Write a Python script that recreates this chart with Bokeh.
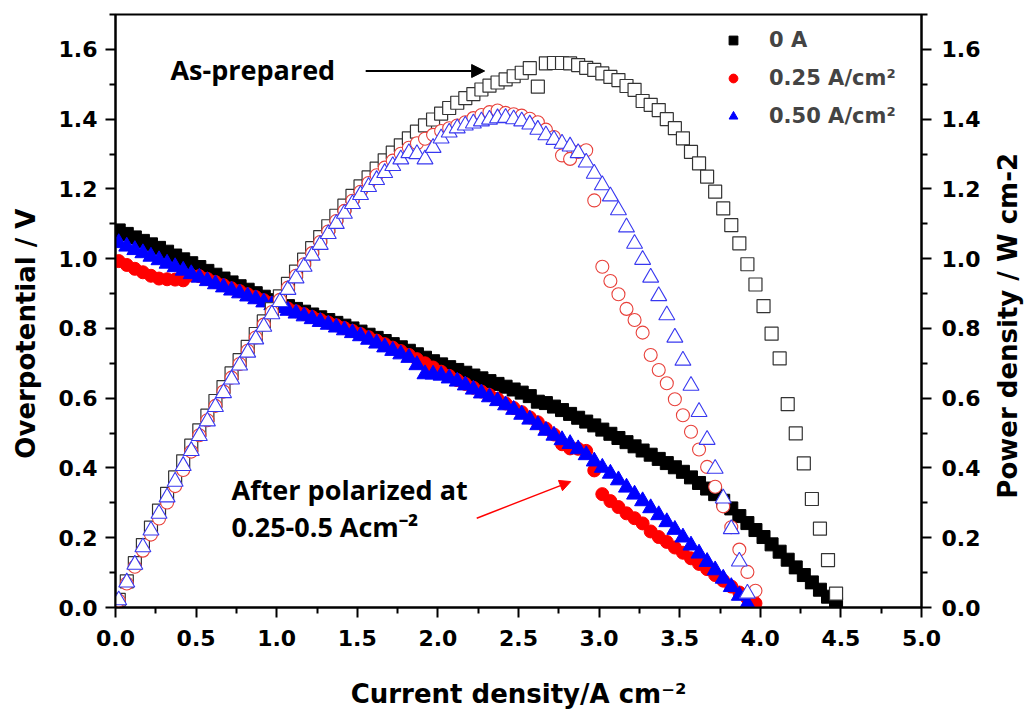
from math import pi
from bokeh.plotting import figure
from bokeh.layouts import row
from bokeh.models import (Range1d, LinearAxis, FixedTicker, Legend, LegendItem, Label,
                          Arrow, NormalHead, PrintfTickFormatter)
from bokeh.embed import file_html
from bokeh.resources import INLINE

# ---------------- data ----------------
cur_0A = [0.02, 0.07, 0.12, 0.17, 0.22, 0.27, 0.32, 0.37, 0.42, 0.47,
          0.52, 0.57, 0.62, 0.67, 0.72, 0.77, 0.82, 0.87, 0.92, 0.97,
          1.02, 1.07, 1.12, 1.17, 1.22, 1.27, 1.32, 1.37, 1.42, 1.47,
          1.52, 1.57, 1.62, 1.67, 1.72, 1.77, 1.82, 1.87, 1.92, 1.97,
          2.02, 2.07, 2.12, 2.17, 2.22, 2.27, 2.32, 2.37, 2.42, 2.47,
          2.52, 2.57, 2.62, 2.67, 2.72, 2.77, 2.82, 2.87, 2.92, 2.97,
          3.02, 3.07, 3.12, 3.17, 3.22, 3.27, 3.32, 3.37, 3.42, 3.47,
          3.52, 3.57, 3.62, 3.67, 3.72, 3.77, 3.82, 3.87, 3.92, 3.97,
          4.02, 4.07, 4.12, 4.17, 4.22, 4.27, 4.32, 4.37, 4.42, 4.47]
volt_0A = [1.081, 1.071, 1.061, 1.051, 1.041, 1.031, 1.020, 1.009, 0.998, 0.987,
           0.976, 0.965, 0.954, 0.943, 0.932, 0.921, 0.911, 0.901, 0.891, 0.881,
           0.872, 0.864, 0.856, 0.848, 0.840, 0.832, 0.824, 0.816, 0.808, 0.800,
           0.791, 0.782, 0.773, 0.764, 0.755, 0.746, 0.736, 0.726, 0.716, 0.706,
           0.697, 0.689, 0.681, 0.673, 0.665, 0.657, 0.649, 0.641, 0.633, 0.625,
           0.616, 0.606, 0.590, 0.586, 0.576, 0.566, 0.555, 0.544, 0.533, 0.522,
           0.510, 0.498, 0.486, 0.474, 0.462, 0.450, 0.438, 0.426, 0.414, 0.402,
           0.389, 0.373, 0.357, 0.341, 0.325, 0.306, 0.284, 0.262, 0.242, 0.222,
           0.202, 0.181, 0.160, 0.137, 0.115, 0.093, 0.072, 0.051, 0.031, 0.010]
power_0A = [0.022, 0.075, 0.127, 0.179, 0.229, 0.278, 0.326, 0.373, 0.419, 0.464,
            0.508, 0.550, 0.592, 0.632, 0.671, 0.709, 0.747, 0.784, 0.820, 0.855,
            0.892, 0.928, 0.963, 0.997, 1.030, 1.062, 1.093, 1.123, 1.152, 1.180,
            1.207, 1.233, 1.258, 1.282, 1.304, 1.325, 1.345, 1.364, 1.382, 1.399,
            1.416, 1.432, 1.447, 1.460, 1.472, 1.485, 1.496, 1.505, 1.514, 1.523,
            1.533, 1.546, 1.493, 1.560, 1.561, 1.561, 1.560, 1.555, 1.547, 1.541,
            1.531, 1.521, 1.512, 1.495, 1.484, 1.452, 1.441, 1.426, 1.400, 1.374,
            1.345, 1.306, 1.273, 1.235, 1.192, 1.144, 1.096, 1.044, 0.984, 0.926,
            0.864, 0.785, 0.714, 0.583, 0.499, 0.413, 0.311, 0.226, 0.136, 0.040]

cur_025 = [0.02, 0.07, 0.12, 0.17, 0.22, 0.27, 0.32, 0.37, 0.42, 0.47,
           0.52, 0.57, 0.62, 0.67, 0.72, 0.77, 0.82, 0.87, 0.92, 0.97,
           1.02, 1.07, 1.12, 1.17, 1.22, 1.27, 1.32, 1.37, 1.42, 1.47,
           1.52, 1.57, 1.62, 1.67, 1.72, 1.77, 1.82, 1.87, 1.92, 1.97,
           2.02, 2.07, 2.12, 2.17, 2.22, 2.27, 2.32, 2.37, 2.42, 2.47,
           2.52, 2.57, 2.62, 2.67, 2.72, 2.77, 2.82, 2.87, 2.92, 2.97,
           3.02, 3.07, 3.12, 3.17, 3.22, 3.27, 3.32, 3.37, 3.42, 3.47,
           3.52, 3.57, 3.62, 3.67, 3.72, 3.77, 3.82, 3.87, 3.92, 3.97]
volt_025 = [0.993, 0.982, 0.971, 0.961, 0.951, 0.943, 0.941, 0.940, 0.938, 0.952,
            0.950, 0.942, 0.933, 0.924, 0.915, 0.907, 0.898, 0.890, 0.881, 0.873,
            0.865, 0.857, 0.849, 0.841, 0.833, 0.825, 0.817, 0.809, 0.801, 0.793,
            0.784, 0.775, 0.765, 0.755, 0.745, 0.735, 0.724, 0.712, 0.700, 0.688,
            0.676, 0.664, 0.652, 0.641, 0.630, 0.619, 0.609, 0.598, 0.585, 0.572,
            0.560, 0.545, 0.531, 0.513, 0.496, 0.468, 0.456, 0.455, 0.449, 0.393,
            0.325, 0.305, 0.288, 0.270, 0.256, 0.241, 0.218, 0.202, 0.188, 0.172,
            0.157, 0.141, 0.125, 0.110, 0.093, 0.077, 0.060, 0.043, 0.026, 0.012]
power_025 = [0.020, 0.069, 0.117, 0.163, 0.209, 0.255, 0.301, 0.348, 0.394, 0.447,
             0.494, 0.537, 0.578, 0.619, 0.659, 0.698, 0.736, 0.774, 0.811, 0.847,
             0.882, 0.917, 0.951, 0.984, 1.016, 1.048, 1.078, 1.108, 1.137, 1.166,
             1.192, 1.217, 1.239, 1.261, 1.281, 1.301, 1.318, 1.331, 1.344, 1.355,
             1.366, 1.374, 1.382, 1.391, 1.403, 1.412, 1.420, 1.425, 1.418, 1.414,
             1.410, 1.401, 1.391, 1.370, 1.349, 1.296, 1.286, 1.306, 1.311, 1.167,
             0.977, 0.936, 0.898, 0.856, 0.824, 0.788, 0.724, 0.681, 0.643, 0.597,
             0.551, 0.504, 0.453, 0.403, 0.346, 0.290, 0.230, 0.166, 0.102, 0.048]

cur_050 = [0.02, 0.07, 0.12, 0.17, 0.22, 0.27, 0.32, 0.37, 0.42, 0.47,
           0.52, 0.57, 0.62, 0.67, 0.72, 0.77, 0.82, 0.87, 0.92, 0.97,
           1.02, 1.07, 1.12, 1.17, 1.22, 1.27, 1.32, 1.37, 1.42, 1.47,
           1.52, 1.57, 1.62, 1.67, 1.72, 1.77, 1.82, 1.87, 1.92, 1.97,
           2.02, 2.07, 2.12, 2.17, 2.22, 2.27, 2.32, 2.37, 2.42, 2.47,
           2.52, 2.57, 2.62, 2.67, 2.72, 2.77, 2.82, 2.87, 2.92, 2.97,
           3.02, 3.07, 3.12, 3.17, 3.22, 3.27, 3.32, 3.37, 3.42, 3.47,
           3.52, 3.57, 3.62, 3.67, 3.72, 3.77, 3.82, 3.87, 3.92]
volt_050 = [1.045, 1.035, 1.025, 1.016, 1.006, 0.996, 0.986, 0.976, 0.966, 0.956,
            0.946, 0.936, 0.927, 0.918, 0.909, 0.901, 0.892, 0.884, 0.875, 0.867,
            0.859, 0.851, 0.843, 0.835, 0.827, 0.819, 0.811, 0.803, 0.795, 0.787,
            0.778, 0.768, 0.757, 0.746, 0.736, 0.726, 0.716, 0.695, 0.669, 0.668,
            0.665, 0.657, 0.648, 0.637, 0.625, 0.614, 0.603, 0.592, 0.580, 0.567,
            0.553, 0.539, 0.523, 0.507, 0.493, 0.480, 0.469, 0.454, 0.437, 0.419,
            0.401, 0.384, 0.365, 0.344, 0.324, 0.305, 0.285, 0.265, 0.245, 0.223,
            0.201, 0.178, 0.155, 0.131, 0.107, 0.083, 0.059, 0.034, 0.010]
power_050 = [0.021, 0.072, 0.123, 0.173, 0.221, 0.269, 0.316, 0.361, 0.406, 0.449,
             0.492, 0.534, 0.575, 0.615, 0.654, 0.694, 0.731, 0.769, 0.805, 0.841,
             0.876, 0.911, 0.944, 0.977, 1.009, 1.040, 1.071, 1.100, 1.129, 1.157,
             1.183, 1.206, 1.226, 1.246, 1.266, 1.285, 1.303, 1.300, 1.285, 1.318,
             1.345, 1.362, 1.374, 1.382, 1.388, 1.394, 1.399, 1.403, 1.404, 1.400,
             1.394, 1.385, 1.370, 1.354, 1.341, 1.330, 1.322, 1.303, 1.276, 1.244,
             1.211, 1.179, 1.139, 1.090, 1.043, 0.997, 0.946, 0.893, 0.838, 0.774,
             0.708, 0.636, 0.561, 0.481, 0.398, 0.313, 0.225, 0.132, 0.040]

legend_labels = ["0 A", "0.25 A/cm\u00b2", "0.50 A/cm\u00b2"]
x_ticks = [0.0, 0.5, 1.0, 1.5, 2.0, 2.5, 3.0, 3.5, 4.0, 4.5, 5.0]
x_minor = [0.25, 0.75, 1.25, 1.75, 2.25, 2.75, 3.25, 3.75, 4.25, 4.75]
y_ticks = [0.0, 0.2, 0.4, 0.6, 0.8, 1.0, 1.2, 1.4, 1.6]
y_minor = [0.1, 0.3, 0.5, 0.7, 0.9, 1.1, 1.3, 1.5, 1.7]

# ---------------- main figure ----------------
p = figure(width=988, height=711, output_backend="svg", toolbar_location=None,
           x_range=Range1d(0, 5.0), y_range=Range1d(0, 1.70),
           min_border_left=115, min_border_right=67, min_border_top=14, min_border_bottom=104)
p.extra_y_ranges = {"pd": Range1d(0, 1.70)}
p.grid.visible = False
p.outline_line_color = "black"
p.outline_line_width = 2
p.background_fill_color = "white"
p.border_fill_color = "white"

yr = LinearAxis(y_range_name="pd")
p.add_layout(yr, "right")

TICK_FONT = "DejaVu Sans"
NB = "\u00a0"
for ax in [p.xaxis[0], p.yaxis[0], yr]:
    ax.axis_line_width = 2
    ax.major_tick_line_width = 2
    ax.minor_tick_line_width = 2
    ax.major_tick_out = 10
    ax.major_tick_in = 0
    ax.minor_tick_out = 6
    ax.minor_tick_in = 0
    ax.major_label_text_font = TICK_FONT
    ax.major_label_text_font_style = "bold"
    ax.major_label_text_font_size = "22px"
    ax.major_label_text_color = "black"
    ax.formatter = PrintfTickFormatter(format="%.1f")
    ax.axis_label_text_font = TICK_FONT
    ax.axis_label_text_font_style = "bold"
    ax.axis_label_text_font_size = "26px"
    ax.axis_label_text_color = "black"

p.xaxis[0].ticker = FixedTicker(ticks=x_ticks, minor_ticks=x_minor)
p.yaxis[0].ticker = FixedTicker(ticks=y_ticks, minor_ticks=y_minor)
yr.ticker = FixedTicker(ticks=y_ticks, minor_ticks=y_minor)
p.xaxis[0].major_label_standoff = 12
p.yaxis[0].major_label_standoff = 8
yr.major_label_standoff = 10

p.xaxis[0].axis_label = "Current density/A cm\u207b\u00b2"
p.xaxis[0].axis_label_standoff = 30
p.yaxis[0].axis_label = "Overpotential / V" + NB * 5
p.yaxis[0].axis_label_standoff = 15

# ---------------- I-V curves (filled) ----------------
r_iv0 = p.scatter(cur_0A, volt_0A, marker="square", size=13, color="black")
r_iv1 = p.scatter(cur_025, volt_025, marker="circle", size=13, color="red")
r_iv2 = p.scatter(cur_050, volt_050, marker="triangle", size=16, color="blue")

# ---------------- power curves (open) ----------------
p.scatter(cur_0A, power_0A, y_range_name="pd", marker="square", size=13,
          fill_color="white", line_color="#333333", line_width=1.2)
p.scatter(cur_025, power_025, y_range_name="pd", marker="circle", size=13,
          fill_color="white", line_color="#e8403a", line_width=1.1)
p.scatter(cur_050, power_050, y_range_name="pd", marker="triangle", size=16,
          fill_color="white", line_color="#3838f0", line_width=1.1)

# ---------------- legend ----------------
legend = Legend(items=[LegendItem(label=legend_labels[0], renderers=[r_iv0]),
                       LegendItem(label=legend_labels[1], renderers=[r_iv1]),
                       LegendItem(label=legend_labels[2], renderers=[r_iv2])],
                location=(607, 479), orientation="vertical",
                border_line_color=None, background_fill_alpha=0,
                label_text_font=TICK_FONT, label_text_font_style="bold",
                label_text_font_size="21px", glyph_width=22, glyph_height=22,
                label_height=22, spacing=14, label_standoff=25, padding=0, margin=0)
p.add_layout(legend)

# ---------------- annotations ----------------
ANN_FONT = "Open Sans"
p.add_layout(Label(x=0.341, y=1.541, text="As-prepared", text_align="left",
                   text_baseline="middle", text_font=ANN_FONT, text_font_style="bold",
                   text_font_size="27px", text_color="black"))
p.add_layout(Arrow(end=NormalHead(size=13, fill_color="black", line_color="black"),
                   x_start=1.552, y_start=1.538, x_end=2.29, y_end=1.538,
                   line_color="black", line_width=2))
p.add_layout(Label(x=0.72, y=0.337, text="After polarized at", text_align="left",
                   text_baseline="middle", text_font=ANN_FONT, text_font_style="bold",
                   text_font_size="27px", text_color="black"))
p.add_layout(Label(x=0.72, y=0.231, text="0.25-0.5 Acm\u207b\u00b2", text_align="left",
                   text_baseline="middle", text_font=ANN_FONT, text_font_style="bold",
                   text_font_size="27px", text_color="black"))
p.add_layout(Arrow(end=NormalHead(size=11, fill_color="red", line_color="red"),
                   x_start=2.241, y_start=0.256, x_end=2.824, y_end=0.361,
                   line_color="red", line_width=1.5))

# ---------------- right-hand axis title strip ----------------
p2 = figure(width=36, height=711, output_backend="svg", toolbar_location=None,
            x_range=Range1d(0, 1), y_range=Range1d(0, 1),
            x_axis_location=None, y_axis_location=None,
            min_border_left=0, min_border_right=0, min_border_top=0, min_border_bottom=0)
p2.grid.visible = False
p2.outline_line_color = None
p2.border_fill_color = "white"
p2.background_fill_color = "white"
p2.add_layout(Label(x=0.53, y=0.475, text="Power density / W cm-2", angle=pi / 2,
                    text_align="center", text_baseline="middle", text_font=TICK_FONT,
                    text_font_style="bold", text_font_size="26px", text_color="black"))

layout = row(p, p2, spacing=0)
open("out.html", "w").write(file_html(layout, INLINE))
